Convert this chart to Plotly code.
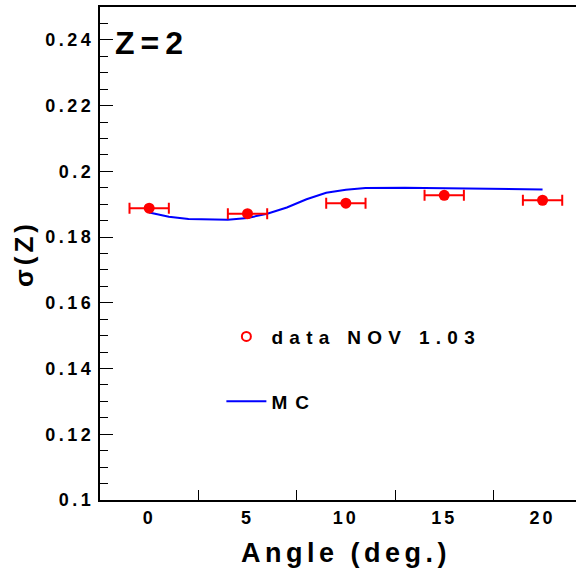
import plotly.graph_objects as go

# Measured charge resolution versus beam angle
angle = [0, 5, 10, 15, 20]
sigma_data = [0.1888, 0.1871, 0.1903, 0.1927, 0.1912]
angle_err = [1, 1, 1, 1, 1]

# Monte Carlo expectation
mc_angle = [0, 1, 2, 3, 4, 5, 6, 7, 8, 9, 10, 11, 12, 13, 14, 15, 16, 17, 18, 19, 20]
mc_sigma = [0.1875, 0.1862, 0.1855, 0.1853, 0.1853, 0.1858, 0.1871, 0.1890,
            0.1915, 0.1935, 0.1944, 0.1949, 0.1950, 0.1950, 0.1949, 0.1948,
            0.1947, 0.1946, 0.1946, 0.1945, 0.1945]

x_tick_vals = [0, 5, 10, 15, 20]
x_tick_text = ["0", "5", "10", "15", "20"]
y_tick_vals = [0.1, 0.12, 0.14, 0.16, 0.18, 0.2, 0.22, 0.24]
y_tick_text = ["0.1", "0.12", "0.14", "0.16", "0.18", "0.2", "0.22", "0.24"]

data_label = "data NOV 1.03"
mc_label = "MC"
panel_label = "Z=2"
x_title = "Angle (deg.)"
y_title = "σ(Z)"

FONT = "Liberation Sans, Arial, sans-serif"


def spaced(text, px):
    return f'<span style="letter-spacing:{px}px">{text}</span>'


fig = go.Figure()

fig.add_trace(go.Scatter(
    x=mc_angle, y=mc_sigma, mode="lines",
    line=dict(color="#0000ff", width=2),
    name=spaced(mc_label, 8), legendgroup="mc", legendrank=2,
))

fig.add_trace(go.Scatter(
    x=angle, y=sigma_data, mode="markers",
    marker=dict(color="#ff0000", size=11, symbol="circle"),
    error_x=dict(type="data", array=angle_err, color="#ff0000",
                 thickness=2, width=5.5),
    showlegend=False,
))

# legend entry for the measured points
fig.add_trace(go.Scatter(
    x=[None], y=[None], mode="markers",
    marker=dict(color="#ff0000", size=9, symbol="circle-open",
                line=dict(color="#ff0000", width=2)),
    name=spaced(data_label, 6.3), legendgroup="data", legendrank=1,
))

fig.add_annotation(
    text=spaced(panel_label, 6), xref="paper", yref="paper",
    x=0.027, y=0.926, xanchor="left", yanchor="middle", showarrow=False,
    font=dict(family=FONT, size=32, color="black", weight="bold"),
)

fig.add_annotation(
    text=spaced(x_title, 4.5), xref="paper", yref="paper",
    x=0.517, y=-0.108, xanchor="center", yanchor="middle", showarrow=False,
    font=dict(family=FONT, size=27, color="black", weight="bold"),
)

fig.update_layout(
    width=576, height=572,
    margin=dict(l=100, r=0, t=7, b=72),
    paper_bgcolor="white", plot_bgcolor="white",
    font=dict(family=FONT, color="black"),
    legend=dict(
        x=0.255, y=0.37, xanchor="left", yanchor="top",
        font=dict(family=FONT, size=19, color="black", weight="bold"),
        bgcolor="rgba(0,0,0,0)", itemwidth=40, tracegroupgap=37,
        traceorder="grouped",
    ),
    xaxis=dict(
        range=[-2.5, 21.7], showgrid=False, zeroline=False,
        showline=True, linecolor="black", linewidth=2, mirror=True,
        tickmode="array", tickvals=x_tick_vals,
        ticktext=[spaced(t, 3) for t in x_tick_text],
        ticks="inside", ticklen=0,
        tickfont=dict(family=FONT, size=18, color="black", weight="bold"),
        minor=dict(tickmode="linear", tick0=2.5, dtick=5, ticks="inside",
                   ticklen=10, tickwidth=1, tickcolor="black"),
    ),
    yaxis=dict(
        range=[0.1, 0.25], showgrid=False, zeroline=False,
        showline=True, linecolor="black", linewidth=2, mirror=False,
        tickmode="array", tickvals=y_tick_vals,
        ticktext=[spaced(t, 3.5) for t in y_tick_text],
        ticks="inside", ticklen=13, tickwidth=1, tickcolor="black",
        tickfont=dict(family=FONT, size=18, color="black", weight="bold"),
        minor=dict(tickmode="linear", tick0=0.1, dtick=0.005, ticks="inside",
                   ticklen=8, tickwidth=1, tickcolor="black"),
        title=dict(text=spaced(y_title, 4), standoff=4,
                   font=dict(family=FONT, size=26, color="black", weight="bold")),
    ),
)

fig.write_html("out.html")
